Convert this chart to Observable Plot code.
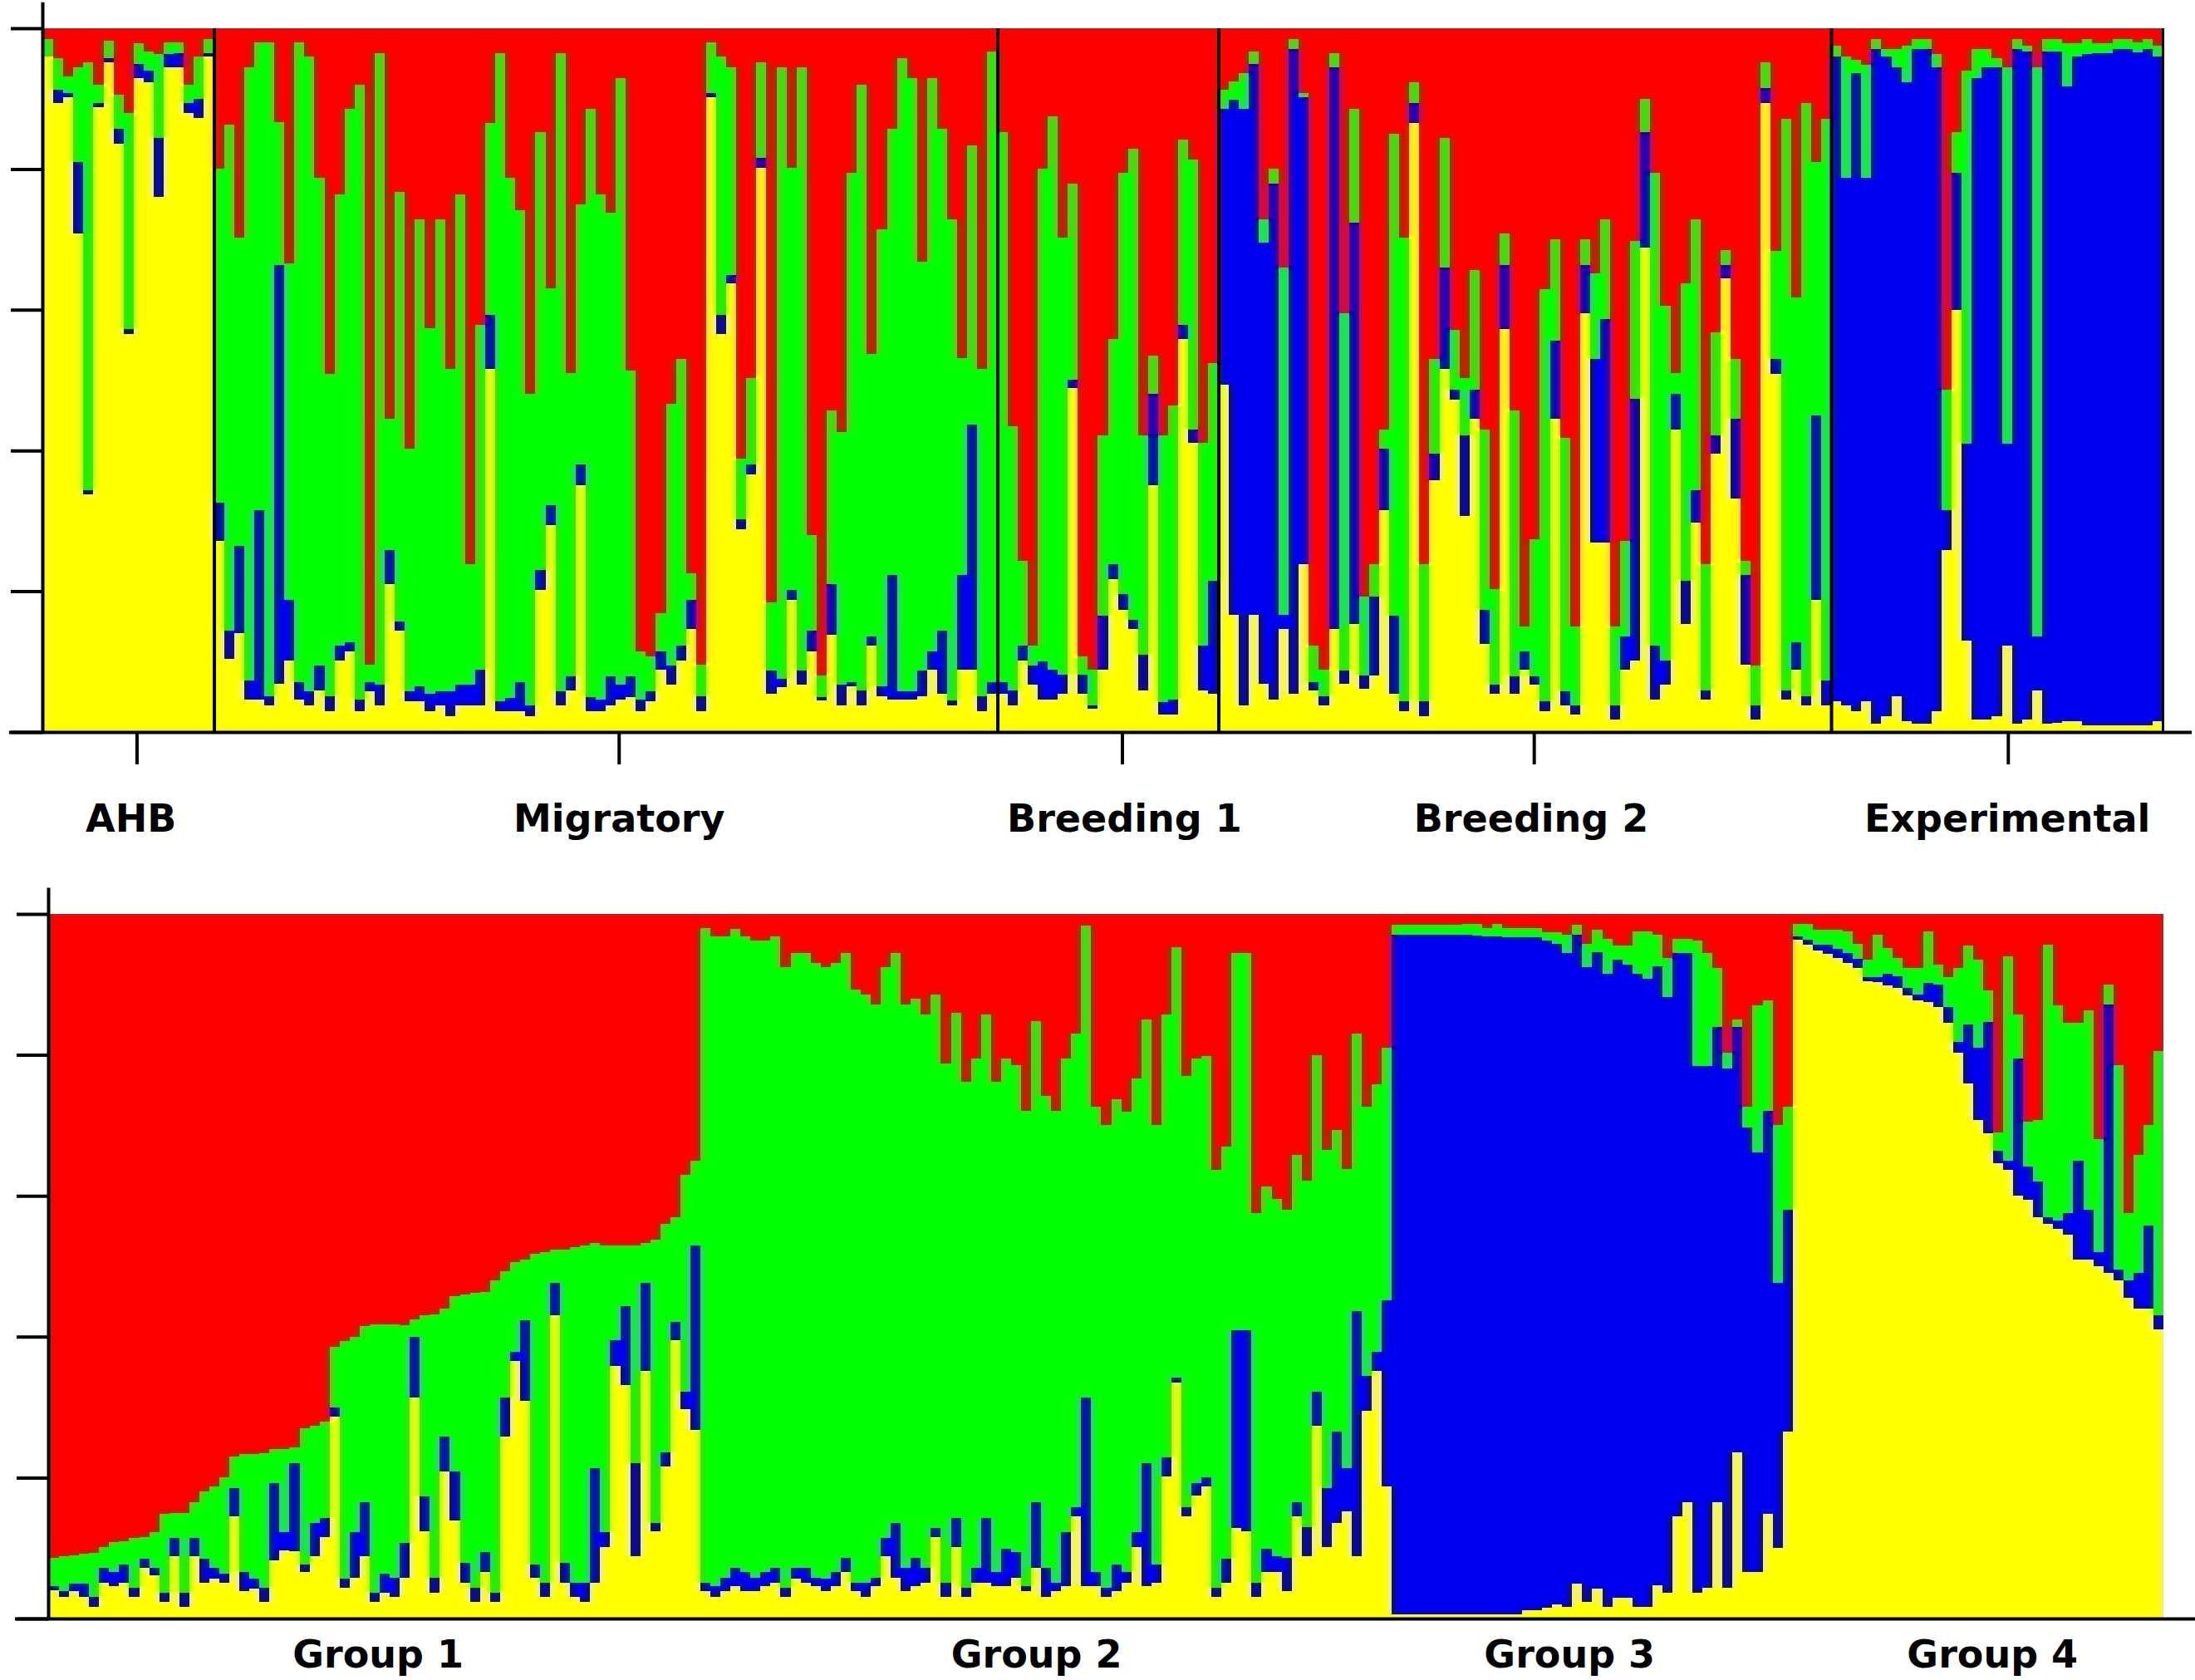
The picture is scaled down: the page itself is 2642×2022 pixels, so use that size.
<!DOCTYPE html>
<html><head><meta charset="utf-8">
<script src="https://cdn.jsdelivr.net/npm/d3@7"></script>
<script src="https://cdn.jsdelivr.net/npm/@observablehq/plot@0.6"></script>
<style>html,body{margin:0;padding:0;background:#fff}svg{display:block}</style>
</head><body>
<svg width="0" height="0" style="position:absolute"><defs>
<filter id="softColour" x="-4%" y="-4%" width="108%" height="108%" color-interpolation-filters="sRGB">
<feColorMatrix in="SourceGraphic" type="matrix" values=".299 .587 .114 0 0 .299 .587 .114 0 0 .299 .587 .114 0 0 0 0 0 1 0" result="L"/>
<feColorMatrix in="SourceGraphic" type="matrix" values=".3505 -.2935 -.057 0 .5 -.1495 .2065 -.057 0 .5 -.1495 -.2935 .443 0 .5 0 0 0 1 0" result="C0"/>
<feFlood flood-color="rgb(128,128,128)" result="N"/>
<feMerge result="C1"><feMergeNode in="N"/><feMergeNode in="C0"/></feMerge>
<feGaussianBlur in="C1" stdDeviation="4.5 2" result="C"/>
<feComposite in="L" in2="C" operator="arithmetic" k1="0" k2="1" k3="2" k4="-1" result="R"/>
<feComposite in="R" in2="SourceAlpha" operator="in"/>
</filter></defs></svg>
<div id="chart"></div>
<script>
// Each individual: [top of yellow, top of blue, top of green] in percent; red fills to 100.
const AHB=[[96,96,98.5],[89.4,91.3,95.7],[90.2,90.8,93.2],[70.8,81,94.4],[33.8,34.3,95.2],[88.8,89.4,92],[95.2,95.8,98.2],[83.6,85.7,90.6],[56.6,57.3,87.9],[92.9,94.9,97.9],[92.3,94,96.7],[76,84.4,96.3],[94.4,96.3,98],[94.4,96.4,98],[88,89.4,92],[87.3,90,96],[96,96.5,98.5]];
const Migratory=[[27.2,32.6,80],[10.4,14.4,86.3],[14,26.5,70.2],[4.6,7.3,94.4],[4.6,31.5,98],[3.8,5.1,98],[6.9,66.4,86.7],[10.2,18.8,66.6],[4.6,7.1,98],[3.8,5.8,96],[5.9,9.4,78.8],[3,5.1,50.9],[10.2,12.3,76.4],[11.5,12.8,88.6],[3,4.6,92],[5.8,7.1,9.6],[3.8,6.7,96.5],[21,25.9,44.5],[14.4,15.7,76.7],[4.4,5.8,40.3],[4.4,6.5,72.9],[3,5.4,57.4],[3.8,5.8,72.9],[2.3,5.8,51.6],[3.8,6.7,76.4],[3.8,6.7,23.8],[3.8,8.8,57.9],[51.6,59.3,86.5],[3,4.4,96.5],[3,4.8,78.8],[3,7.1,74.2],[2.3,3.8,48],[20.2,23,85.2],[29.4,32.2,63.1],[3.8,5.8,96.5],[5.9,7.9,51],[35.1,38,75],[3,5,88.6],[3,4.6,76.4],[3.8,7.9,73.8],[4.6,6.7,92.9],[5,7.9,51.4],[3,4.6,11.5],[4.4,5.8,10.7],[8.8,11.5,16.9],[6.7,9.4,46.6],[10.2,12.3,53],[14.6,18.8,22.5],[3,5.1,9.6],[90.2,90.8,98],[56.6,59.3,96],[63.7,64.9,94.4],[28.8,30.2,38.8],[36.6,38,50.3],[80.2,81.6,95.2],[5.4,8.7,18.4],[6.4,7.5,94.4],[18.8,20.2,80.2],[6.7,8.7,94.4],[11.5,14.4,28],[4.5,5,8],[13.8,21,45.7],[3.8,6.7,42.6],[6.5,7.1,79.4],[3.8,5.9,92],[12.3,13.6,53.7],[5.1,6.5,71.4],[4.6,22.3,85.7],[4.6,5.8,95.7],[4.6,5.8,92.9],[5.1,8.7,66.8],[8.8,11.5,92.9],[5.4,14.4,85.7],[3.8,4.5,72.9],[8.8,22.3,53.1],[8.8,43.7,83.4],[3,5.1,51.6],[5.4,7.1,96.7]];
const Breeding1=[[5.4,7.1,85.2],[3.8,5.9,43.5],[10.2,12.3,24.3],[6.7,9.4,12.3],[4.6,10,80],[4.6,8.8,87.5],[5.4,8.1,70.2],[48.9,50.1,77.9],[5.4,8.1,10.7],[3.3,3.8,8.8],[8.8,16.5,42.2],[21.7,23.8,55.8],[17.3,19.6,79.4],[14.6,15.9,82.9],[5.9,11,42.2],[35.1,48,53.5],[2.5,4.2,42.2],[2.5,4.6,46.4],[55.8,57.9,84.2],[41.1,43,81.4],[5.9,12.3,41.1],[5.4,21.5,52.4]];
const Breeding2=[[49.3,88.6,91.3],[16.7,89.8,92.5],[3.8,88.6,93.6],[16.7,94.9,96.7],[6.9,69.5,72.9],[4.6,77.9,80],[14.6,16.7,66],[5.4,97,98.5],[23.8,90.2,90.8],[5.9,7.1,12.3],[3.8,5.1,8.8],[14.6,94.4,96.5],[6.9,8.7,59.5],[15.3,72.4,88.6],[6.1,8,19.2],[8,19.2,23.8],[31.5,40.3,43],[5.4,16.5,85],[3,4.4,70.2],[86.5,89.4,92.3],[2.3,4.4,23.8],[35.8,39.5,53],[51.6,66,84.4],[47.2,48.6,57.2],[30.7,42.2,50.3],[44.5,48.7,65.6],[12.5,17.3,43],[5.4,6.7,20.3],[57.3,66.4,70.8],[5.4,7.9,45.7],[8.8,11.5,15],[6.7,7.9,27.4],[3,4.4,62.9],[44.5,55.6,70],[3.8,5.8,41.8],[2.5,3.8,15],[59.5,66.4,70],[26.9,53,65.2],[26.9,58.7,72.9],[1.8,3.8,15],[8.8,13.6,27.2],[10.2,47.4,69.8],[68.8,85.2,90],[4.6,12.3,79.4],[6.7,10.2,60.6],[43,48,51],[15.3,21.5,63.7],[29.7,34.3,72.9],[4.6,5.9,23.8],[39.5,42.2,56.8],[64.5,66.4,68.5],[33.2,44.5,53],[9.6,22.3,24.3],[1.8,3.8,9.4],[89.4,91.5,95.2],[50.9,53,68.3],[4.6,5.9,87.1],[8.8,12.8,61.8],[3.8,5.1,89.4],[18.8,45,81],[3.8,7.3,87.1]];
const Experimental=[[4.4,96,97.5],[3.8,78.7,96],[3,93.6,95.5],[4.4,78.7,94.8],[1.2,97,98.5],[2.3,96,97],[5.1,94.4,97],[1.5,92.3,97.5],[1.2,97,98.5],[1.2,97,98.5],[3,94.4,96.3],[25.9,31.5,48.6],[60,79.4,85.2],[13,41,94],[1.8,92.9,97],[1.8,94.4,97],[2.3,94.4,95.7],[12.3,41,94.4],[1.2,97,98.5],[1.8,96.7,97.5],[5.9,13.6,94.4],[1.2,96.7,98.5],[1.3,96.7,98.5],[1.5,91.7,97.9],[1.5,96,97.9],[1,96.3,98.5],[1,96.5,97.9],[1,96.5,97.9],[1,97,98.5],[1,97,98.5],[1,96.6,98],[1,97,98.5],[1.5,96,97.5]];
const Group1=[[4,4.6,8.6],[3.1,3.9,8.9],[3.9,5,9],[3.1,5,9.2],[1.7,3.1,9.3],[5.1,7.2,10.2],[4.6,6.6,10.9],[5.1,7.7,11],[3.1,4.4,11.4],[7.2,8.5,11.5],[6.1,7.2,12.3],[2.4,3.7,14.9],[8.8,11.4,15],[1.7,3.7,15],[8.8,11.4,16.5],[5.1,8.5,18],[5.7,7.2,18.8],[5.1,6.4,20],[14.5,18.5,23],[3.9,6.6,23.4],[4.2,5.7,23.4],[2.4,4.4,23.5],[8.3,19.2,24],[9.7,12.3,24.1],[9.5,22.1,24.3],[6.6,7.7,27],[8.8,13.6,27.3],[11.5,14.3,28],[28.7,30,38.6],[4.4,5.7,39.4],[5.8,12.3,40],[8.8,16.5,41.5],[2.4,3.7,41.7],[3.7,6.4,41.7],[3.1,5.8,41.7],[5.8,10.7,41.6],[31.4,40,42.4],[12.4,17.3,43],[3.7,5.8,43.2],[20.9,25.8,44],[13.9,20.9,45.7],[5.1,7.9,46],[2.4,4.4,46.2],[6.6,9.4,46.4],[2.4,3.7,48],[25.8,31.4,49.3],[36.5,37.9,50.6],[30.9,42.3,50.9],[5.8,7.7,51.8],[3.1,5.1,52],[43,47.7,52.3],[5.1,7.9,52.4],[3.1,5.1,52.7],[2.4,5.1,52.9],[5.1,21.4,53.3],[10.2,12.3,53],[35.8,39.5,53],[33.1,44.3,53],[8.8,22.1,53],[35.1,47.7,53.3],[12.4,13.6,53.8],[21.6,23.6,56],[39.5,42.1,57],[29.7,32.2,63],[26.8,52.9,65]];
const Group2=[[3.9,5.1,98],[3.1,4.6,96.8],[3.9,5.8,96.8],[4.6,7.2,97.9],[3.9,6.6,96.8],[3.9,5.8,96.2],[4.6,6.6,96.2],[5.1,7.2,96.8],[3.1,4.4,92.4],[5.7,7.2,94.4],[5.1,7.2,94.4],[4.6,5.8,93],[3.9,5.7,92.4],[4.6,6.6,93],[6.6,8.6,94.4],[3.9,5.1,89.3],[3.1,5.1,88.6],[4.6,5.8,87.2],[8.8,11.4,92.4],[5.8,13.6,94.4],[3.9,7.2,87.2],[4.6,8.6,88],[5.1,7.2,85.7],[11.5,12.9,88.6],[3.1,5.1,78.8],[10.2,14.3,86],[3.1,4.4,76.2],[5.1,7.2,79.5],[5.1,14.3,85.7],[4.6,6.6,76.2],[4.6,9.9,79.5],[5.8,9.4,78.5],[3.9,4.6,72],[7.2,16.5,84.8],[3.1,7.2,74.2],[3.9,5.1,72],[4.6,12.3,79.5],[14.5,15.8,83],[4.6,31.4,98.4],[4.6,6.6,72.7],[3.1,4.4,70],[3.9,7.7,73.7],[5.1,6.6,71.9],[10.2,12.3,76.6],[4.6,22.1,85],[5.1,7.7,70],[20.2,22.9,85.7],[33.5,34.2,95.3],[14.5,15.8,77],[17.4,19.2,79.5],[18.7,20,79.8],[3.1,4.4,63.7],[5.1,8.5,67],[12.9,40.9,94.4],[12.4,40.9,94.4],[3.1,5.1,57.5],[6.6,9.9,61.3],[6.6,8.8,59.5],[3.9,8.6,58],[14.5,16.5,65.8],[8.8,13,62.2],[27.3,32.2,80],[10.2,18.5,66.5],[13.6,26.5,69.3],[15.2,21.4,63.8],[8.8,43.6,83],[29.5,34.4,72.7],[35.1,37.9,75.8],[18.7,45.2,81]];
const Group3=[[0.6,97,98.5],[0.6,97,98.5],[0.6,97,98.5],[0.6,97,98.5],[0.6,97,98.5],[0.6,97,98.5],[0.6,97,98.5],[0.6,97,98.6],[0.6,96.9,98.6],[0.6,96.8,98],[0.6,96.8,98.6],[0.6,96.7,98],[0.6,96.7,98],[1.2,96.7,98],[1.2,96.7,98],[1.5,96.2,97.4],[2,95.8,97.4],[1.7,94.5,97],[5,97,98.5],[2.3,92.5,95.8],[4.3,94.6,97.8],[1.7,91.5,96.5],[3,93.5,95.5],[3,92.8,95.5],[1.7,91.5,97.5],[1.7,90.8,97.5],[4.7,92.6,97],[3.6,88.2,93.8],[14.5,94.5,96.5],[16.5,94.5,96.5],[3.6,78.4,96.2],[4.4,78.4,94.4],[16.5,84,92.3],[4.4,78.1,80.3],[23.6,84,85],[6.6,69.7,72.7],[6.6,66.2,87],[14.8,72,87.7],[10,47.6,70],[26.5,58,72.7]];
const Group4=[[96.3,96.8,98.6],[95.6,96.4,98.6],[94.8,95.6,97.8],[94.3,95.6,97.8],[93.7,95,97.8],[93,94.5,97.5],[92.3,93.6,95.8],[90.5,91,93.5],[90.3,91,97],[89.8,91.5,95.2],[89.5,91.2,93.8],[88.5,89.5,92.3],[87.7,88.6,92.3],[87.5,90.2,97.5],[86.8,90,92.8],[84.5,86.8,91],[80.3,81.8,92.3],[76,84.3,95.5],[70.8,81,93.5],[68.9,84.7,89.2],[64.6,66.4,69],[63.7,65,94],[60,79.5,85.7],[59.4,64.2,70.5],[57,62,70.8],[56,57,95.6],[55.3,56.5,87],[54.5,57.5,84.5],[51,65,84.5],[51,58,86.3],[50,52,68],[49,87.2,90],[48,49.5,78.5],[45.5,48,57.5],[44,49,65.8],[44,55.8,70],[41,43,80.5]];
const topNames=["AHB","Migratory","Breeding 1","Breeding 2","Experimental"];
const topLabelAt=[8.7,57.3,107.6,148.1,195.5];
const topTickAt=[9.3,57.3,107.4,148.4,195.6];
const botNames=["Group 1","Group 2","Group 3","Group 4"];
const botLabelAt=[32.8,98.5,151.7,193.9];
const yTicks=[0,20,40,60,80,100];
const clusterNames=["Cluster 1","Cluster 2","Cluster 3","Cluster 4"];
const clusterColors=["#ffff00","#0000f0","#00ff00","#ff0000"];

function segments(groups){
  const out=[];
  groups.flat().forEach((b,i)=>{
    const tops=[...b,100];let prev=0;
    tops.forEach((t,k)=>{out.push({i,y1:prev,y2:t,c:clusterNames[k]});prev=t;});
  });
  return out;
}
function panel(o){
  const n=o.groups.flat().length;
  let acc=0;const bounds=o.separators?o.groups.slice(0,-1).map(g=>acc+=g.length):[];
  return Plot.plot({
    width:2642,height:o.height,
    marginLeft:o.left,marginRight:2642-o.right,marginTop:o.top,marginBottom:o.height-o.bottom,
    x:{domain:[0,n],axis:null,label:null},
    y:{domain:[0,100],axis:null,label:null},
    color:{type:"ordinal",domain:clusterNames,range:clusterColors},
    style:{background:"#fff",overflow:"visible"},
    marks:[
      Plot.rect(segments(o.groups),{x1:"i",x2:d=>d.i+1,y1:"y1",y2:"y2",fill:"c",shapeRendering:"crispEdges",imageFilter:"url(#softColour)"}),
      Plot.ruleX(bounds,{y1:0,y2:100,stroke:"#000",strokeWidth:4}),
      o.separators?Plot.ruleX([n],{y1:0,y2:100,stroke:"#000",strokeWidth:3}):null,
      Plot.ruleX([0],{y1:0,y2:o.yTop,stroke:"#000",strokeWidth:4,dx:-1}),
      Plot.axisY({ticks:yTicks,tickSize:39,tickFormat:()=>"",label:null,stroke:"#000",strokeWidth:4,tickPadding:0}),
      o.ticks?Plot.axisX({ticks:o.ticks,tickSize:39,tickFormat:()=>"",label:null,stroke:"#000",strokeWidth:4,tickPadding:0}):null,
      Plot.ruleY([0],{x1:o.x1,x2:o.x2,stroke:"#000",strokeWidth:4}),
      Plot.text(o.names,{x:(d,i)=>o.labelAt[i],y:()=>0,dy:o.dy,text:d=>d,fontSize:46,fontWeight:"bold",fontFamily:"DejaVu Sans",fill:"#000",lineAnchor:"middle",textAnchor:"middle"})
    ]
  });
}
const root=document.getElementById("chart");
root.append(panel({groups:[AHB,Migratory,Breeding1,Breeding2,Experimental],separators:true,height:1050,left:52,right:2603,top:34,bottom:881,yTop:103.7,x1:-3.4,x2:213.9,ticks:topTickAt,names:topNames,labelAt:topLabelAt,dy:105}));
root.append(panel({groups:[Group1,Group2,Group3,Group4],separators:false,height:972,left:59,right:2604,top:50,bottom:898,yTop:103.7,x1:-3.4,x2:214.5,ticks:null,names:botNames,labelAt:botLabelAt,dy:44}));
</script></body></html>
